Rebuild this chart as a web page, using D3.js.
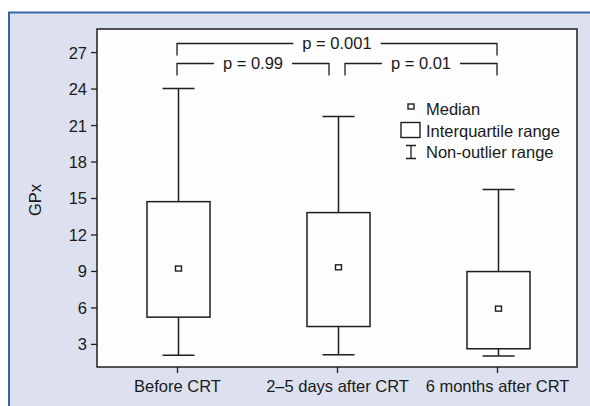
<!DOCTYPE html>
<html>
<head>
<meta charset="utf-8">
<script src="https://cdn.jsdelivr.net/npm/d3@7"></script>
<style>
  body { margin: 0; background: #fff; }
  text { font-family: "Liberation Sans", Arial, sans-serif; fill: #1a1a1a; }
</style>
</head>
<body>
<svg id="chart" width="590" height="406"></svg>
<script>
// group names on the x axis
var groups = ["Before CRT", "2\u20135 days after CRT", "6 months after CRT"];
// box plot values per group
var lowWhisker = [2.07, 2.1, 2.0];
var lowerQuart = [5.2, 4.43, 2.6];
var medians = [9.2, 9.3, 5.9];
var upperQuart = [14.7, 13.8, 8.95];
var highWhisker = [24.0, 21.7, 15.7];
var yTicks = [3, 6, 9, 12, 15, 18, 21, 24, 27];
// comparisons drawn above the boxes
var pFrom = [0, 0, 1];
var pTo = [2, 1, 2];
var pLabels = ["p = 0.001", "p = 0.99", "p = 0.01"];
var legendItems = ["Median", "Interquartile range", "Non-outlier range"];

var svg = d3.select("#chart");
var ink = "#1f1f1f";
var fs = 16.5;

var plot = {left: 97, top: 29, right: 577, bottom: 367};

// panel background
svg.append("rect").attr("x", 8).attr("y", 12).attr("width", 590).attr("height", 400)
  .attr("fill", "#dde1ef");
svg.append("path").attr("d", "M9,406V12.5H590")
  .attr("fill", "none").attr("stroke", "#3465a8").attr("stroke-width", 2);

svg.append("rect").attr("x", plot.left).attr("y", plot.top)
  .attr("width", plot.right - plot.left).attr("height", plot.bottom - plot.top)
  .attr("fill", "#fdfdfd");

var x = d3.scalePoint().domain(groups).range([plot.left, plot.right]).padding(0.5);
var y = d3.scaleLinear().domain([1.1, 28.9]).range([plot.bottom, plot.top]);

// axes
var yAxis = svg.append("g").attr("transform", "translate(" + plot.left + ",0)")
  .call(d3.axisLeft(y).tickValues(yTicks).tickSize(6).tickPadding(4));
var xAxis = svg.append("g").attr("transform", "translate(0," + plot.bottom + ")")
  .call(d3.axisBottom(x).tickSize(6).tickPadding(5));
[yAxis, xAxis].forEach(function(a) {
  a.select(".domain").remove();
  a.selectAll("line").attr("stroke", ink).attr("stroke-width", 1.3);
  a.selectAll("text").attr("font-size", fs).attr("fill", ink)
    .style("font-family", "'Liberation Sans', Arial, sans-serif");
});
xAxis.selectAll("text").attr("dy", "0.82em");
yAxis.selectAll("text").attr("dy", "0.36em");

svg.append("text").attr("transform", "translate(41,200) rotate(-90)")
  .attr("text-anchor", "middle").attr("font-size", fs).text("GPx");

// boxes
var boxW = 63, capW = 32, shift = 1.5;
var boxes = svg.append("g").selectAll("g").data(groups).enter().append("g")
  .attr("transform", function(d) { return "translate(" + (x(d) + shift) + ",0)"; });

boxes.append("line")
  .attr("y1", function(d, i) { return y(highWhisker[i]); })
  .attr("y2", function(d, i) { return y(lowWhisker[i]); })
  .attr("stroke", ink).attr("stroke-width", 1.5);
boxes.append("line").attr("x1", -capW / 2).attr("x2", capW / 2)
  .attr("y1", function(d, i) { return y(highWhisker[i]); })
  .attr("y2", function(d, i) { return y(highWhisker[i]); })
  .attr("stroke", ink).attr("stroke-width", 1.5);
boxes.append("line").attr("x1", -capW / 2).attr("x2", capW / 2)
  .attr("y1", function(d, i) { return y(lowWhisker[i]); })
  .attr("y2", function(d, i) { return y(lowWhisker[i]); })
  .attr("stroke", ink).attr("stroke-width", 1.5);
boxes.append("rect").attr("x", -boxW / 2).attr("width", boxW)
  .attr("y", function(d, i) { return y(upperQuart[i]); })
  .attr("height", function(d, i) { return y(lowerQuart[i]) - y(upperQuart[i]); })
  .attr("fill", "#fdfdfd").attr("stroke", ink).attr("stroke-width", 1.5);
boxes.append("rect").attr("x", -3).attr("width", 6).attr("height", 5)
  .attr("y", function(d, i) { return y(medians[i]) - 2.5; })
  .attr("fill", "#fff").attr("stroke", ink).attr("stroke-width", 1.4);

// plot frame
svg.append("rect").attr("x", plot.left).attr("y", plot.top)
  .attr("width", plot.right - plot.left).attr("height", plot.bottom - plot.top)
  .attr("fill", "none").attr("stroke", ink).attr("stroke-width", 1.5);

// significance brackets
var inset = 8;
pLabels.forEach(function(lab, i) {
  var a = pFrom[i], b = pTo[i];
  var x1 = x(groups[a]) + (b - a === 1 && a > 0 ? inset : 0);
  var x2 = x(groups[b]) - (b - a === 1 && a === 0 ? inset : 0);
  var lineY = b - a === 1 ? 63.5 : 43.5;
  var g = svg.append("g");
  var t = g.append("text").attr("x", (x1 + x2) / 2).attr("y", lineY)
    .attr("dy", "0.36em").attr("text-anchor", "middle").attr("font-size", fs).text(lab);
  var half = t.node().getComputedTextLength() / 2 + 9;
  var mid = (x1 + x2) / 2;
  g.append("path")
    .attr("d", "M" + x1 + "," + (lineY + 12) + "V" + lineY + "H" + (mid - half))
    .attr("fill", "none").attr("stroke", ink).attr("stroke-width", 1.3);
  g.append("path")
    .attr("d", "M" + (mid + half) + "," + lineY + "H" + x2 + "V" + (lineY + 12))
    .attr("fill", "none").attr("stroke", ink).attr("stroke-width", 1.3);
});

// legend
var lg = svg.append("g").attr("transform", "translate(411,0)");
lg.append("rect").attr("x", -3).attr("y", 104).attr("width", 6).attr("height", 5)
  .attr("fill", "#fff").attr("stroke", ink).attr("stroke-width", 1.4);
lg.append("rect").attr("x", -10).attr("y", 122.5).attr("width", 19).attr("height", 15)
  .attr("fill", "#fff").attr("stroke", ink).attr("stroke-width", 1.4);
lg.append("path").attr("d", "M-5,145.5H5M0,145.5V158.5M-5,158.5H5")
  .attr("fill", "none").attr("stroke", ink).attr("stroke-width", 1.3);
lg.selectAll("text.leg").data(legendItems).enter().append("text")
  .attr("class", "leg").attr("x", 15)
  .attr("y", function(d, i) { return 115 + i * 21.5; })
  .attr("font-size", fs).text(function(d) { return d; });
</script>
</body>
</html>
